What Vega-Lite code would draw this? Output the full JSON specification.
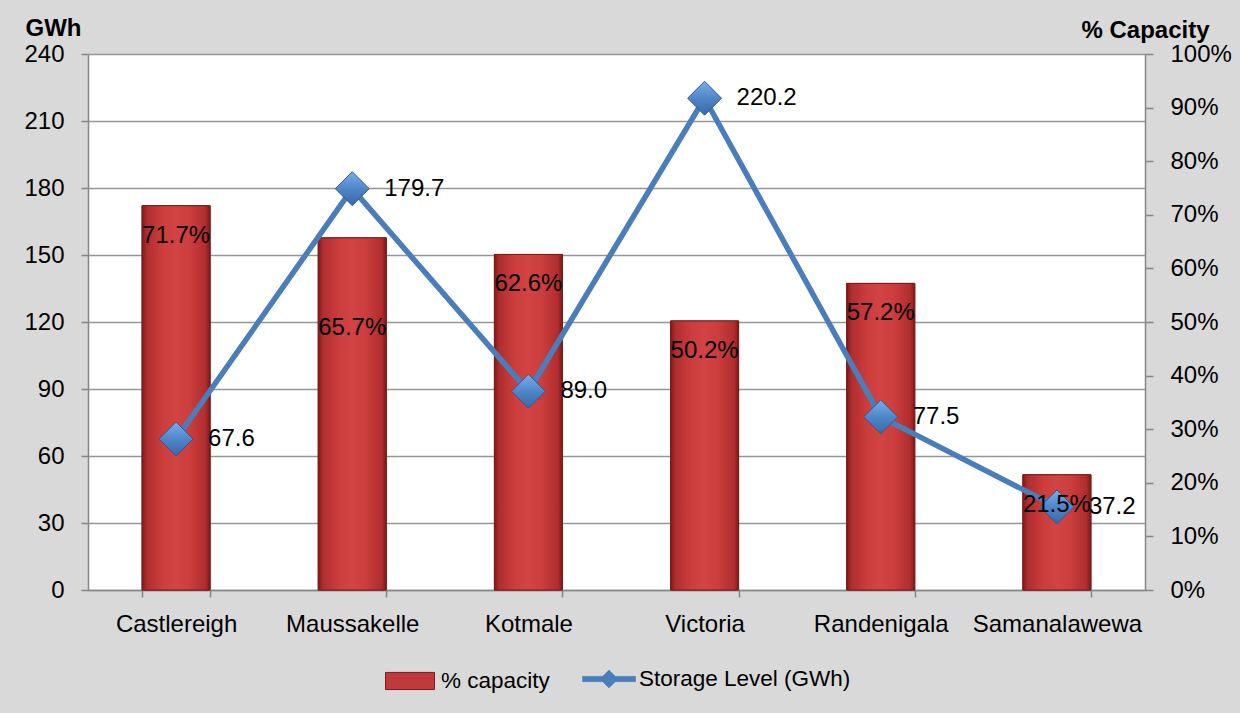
{
  "$schema": "https://vega.github.io/schema/vega-lite/v6.json",
  "width": 1057,
  "height": 536,
  "autosize": {"type": "none"},
  "padding": {"left": 88, "top": 54, "right": 95, "bottom": 123},
  "background": "#d9d9d9",
  "config": {
    "view": {"fill": "white", "stroke": null},
    "font": "Liberation Sans",
    "axis": {
      "labelFont": "Liberation Sans",
      "labelFontSize": 24,
      "labelColor": "black",
      "titleFont": "Liberation Sans",
      "titleColor": "black",
      "domainColor": "#868686",
      "domainWidth": 1.5,
      "tickColor": "#868686",
      "tickWidth": 1.5,
      "gridColor": "#969696",
      "gridWidth": 1.5
    },
    "legend": {"labelFont": "Liberation Sans", "labelFontSize": 22.5, "labelColor": "black", "labelLimit": 0}
  },
  "data": {
    "values": [
      {"reservoir": "Castlereigh", "pct": 0.717, "gwh": 67.6},
      {"reservoir": "Maussakelle", "pct": 0.657, "gwh": 179.7},
      {"reservoir": "Kotmale", "pct": 0.626, "gwh": 89.0},
      {"reservoir": "Victoria", "pct": 0.502, "gwh": 220.2},
      {"reservoir": "Randenigala", "pct": 0.572, "gwh": 77.5},
      {"reservoir": "Samanalawewa", "pct": 0.215, "gwh": 37.2}
    ]
  },
  "encoding": {
    "x": {
      "field": "reservoir",
      "type": "nominal",
      "sort": null,
      "scale": {"paddingInner": 0.614, "paddingOuter": 0.307},
      "axis": {
        "title": null,
        "labelAngle": 0,
        "tickBand": "extent",
        "tickSize": 7,
        "labelPadding": 15,
        "grid": false
      }
    }
  },
  "layer": [
    {
      "mark": {"type": "bar", "stroke": "#7a1c1c", "strokeWidth": 1},
      "encoding": {
        "y": {
          "field": "pct",
          "type": "quantitative",
          "scale": {"domain": [0, 1], "nice": false},
          "axis": {
            "orient": "right",
            "values": [0, 0.1, 0.2, 0.3, 0.4, 0.5, 0.6, 0.7, 0.8, 0.9, 1],
            "format": ".0%",
            "grid": false,
            "tickSize": 8,
            "labelPadding": 17,
            "title": "% Capacity",
            "titleAngle": 0,
            "titleFontSize": 24,
            "titleFontWeight": "bold",
            "titleAlign": "left",
            "titleBaseline": "alphabetic",
            "titleX": -64,
            "titleY": -17
          }
        },
        "fill": {
          "datum": "% capacity",
          "scale": {"range": ["#c0393b"]},
          "legend": {
            "title": null,
            "orient": "none",
            "legendX": 297,
            "legendY": 602,
            "symbolType": "M-1,-0.35H1V0.35H-1Z",
            "symbolSize": 2401,
            "symbolStrokeColor": "#7a1c1c",
            "symbolStrokeWidth": 1,
            "labelOffset": 6
          }
        }
      }
    },
    {
      "mark": {
        "type": "bar",
        "stroke": "#7a1c1c",
        "strokeWidth": 1,
        "color": {
          "gradient": "linear",
          "x1": 0, "y1": 0, "x2": 1, "y2": 0,
          "stops": [
            {"offset": 0, "color": "#7d1a1a"},
            {"offset": 0.07, "color": "#b02e2e"},
            {"offset": 0.3, "color": "#cc3d3d"},
            {"offset": 0.5, "color": "#d24444"},
            {"offset": 0.7, "color": "#cc3d3d"},
            {"offset": 0.93, "color": "#b02e2e"},
            {"offset": 1, "color": "#7d1a1a"}
          ]
        }
      },
      "encoding": {
        "y": {"field": "pct", "type": "quantitative", "scale": {"domain": [0, 1], "nice": false}, "axis": null}
      }
    },
    {
      "mark": {"type": "line", "color": "#4a7ebb", "strokeWidth": 5.5, "strokeCap": "round", "strokeJoin": "round"},
      "encoding": {
        "y": {
          "field": "gwh",
          "type": "quantitative",
          "scale": {"domain": [0, 240], "nice": false},
          "axis": {
            "orient": "left",
            "values": [0, 30, 60, 90, 120, 150, 180, 210, 240],
            "grid": true,
            "tickSize": 7,
            "labelPadding": 17,
            "title": "GWh",
            "titleAngle": 0,
            "titleFontSize": 24,
            "titleFontWeight": "bold",
            "titleAlign": "left",
            "titleBaseline": "alphabetic",
            "titleX": -63,
            "titleY": -19
          }
        },
        "stroke": {
          "datum": "Storage Level (GWh)",
          "scale": {"range": ["#4a7ebb"]},
          "legend": {
            "title": null,
            "orient": "none",
            "legendX": 494,
            "legendY": 598,
            "symbolType": "M-1,-0.1H1V0.1H-1Z M0,-0.34L0.34,0L0,0.34L-0.34,0Z",
            "symbolSize": 2809,
            "labelOffset": 3,
            "labelLimit": 0,
            "encode": {
              "symbols": {
                "update": {
                  "fill": {"value": "#4a7ebb"},
                  "stroke": {"value": "#3b6aa3"},
                  "strokeWidth": {"value": 0.5}
                }
              }
            }
          }
        }
      }
    },
    {
      "mark": {
        "type": "point",
        "shape": "diamond",
        "size": 1150,
        "filled": true,
        "opacity": 1,
        "fill": {
          "gradient": "linear",
          "x1": 0, "y1": 0, "x2": 0, "y2": 1,
          "stops": [
            {"offset": 0, "color": "#78aeea"},
            {"offset": 0.5, "color": "#4f86c8"},
            {"offset": 1, "color": "#3a68a6"}
          ]
        },
        "stroke": "#2f5a90",
        "strokeWidth": 1
      },
      "encoding": {
        "y": {"field": "gwh", "type": "quantitative", "scale": {"domain": [0, 240], "nice": false}, "axis": null}
      }
    },
    {
      "transform": [{"filter": "datum.reservoir !== 'Maussakelle'"}],
      "mark": {"type": "text", "fontSize": 24, "color": "black", "align": "center", "baseline": "middle", "dy": 30},
      "encoding": {
        "y": {"field": "pct", "type": "quantitative", "scale": {"domain": [0, 1], "nice": false}, "axis": null},
        "text": {"field": "pct", "type": "quantitative", "format": ".1%"}
      }
    },
    {
      "transform": [{"filter": "datum.reservoir === 'Maussakelle'"}],
      "mark": {"type": "text", "fontSize": 24, "color": "black", "align": "center", "baseline": "middle", "dy": 90},
      "encoding": {
        "y": {"field": "pct", "type": "quantitative", "scale": {"domain": [0, 1], "nice": false}, "axis": null},
        "text": {"field": "pct", "type": "quantitative", "format": ".1%"}
      }
    },
    {
      "mark": {"type": "text", "fontSize": 24, "color": "black", "align": "left", "baseline": "middle", "dx": 32},
      "encoding": {
        "y": {"field": "gwh", "type": "quantitative", "scale": {"domain": [0, 240], "nice": false}, "axis": null},
        "text": {"field": "gwh", "type": "quantitative", "format": ".1f"}
      }
    }
  ],
  "resolve": {"scale": {"y": "independent"}}
}
